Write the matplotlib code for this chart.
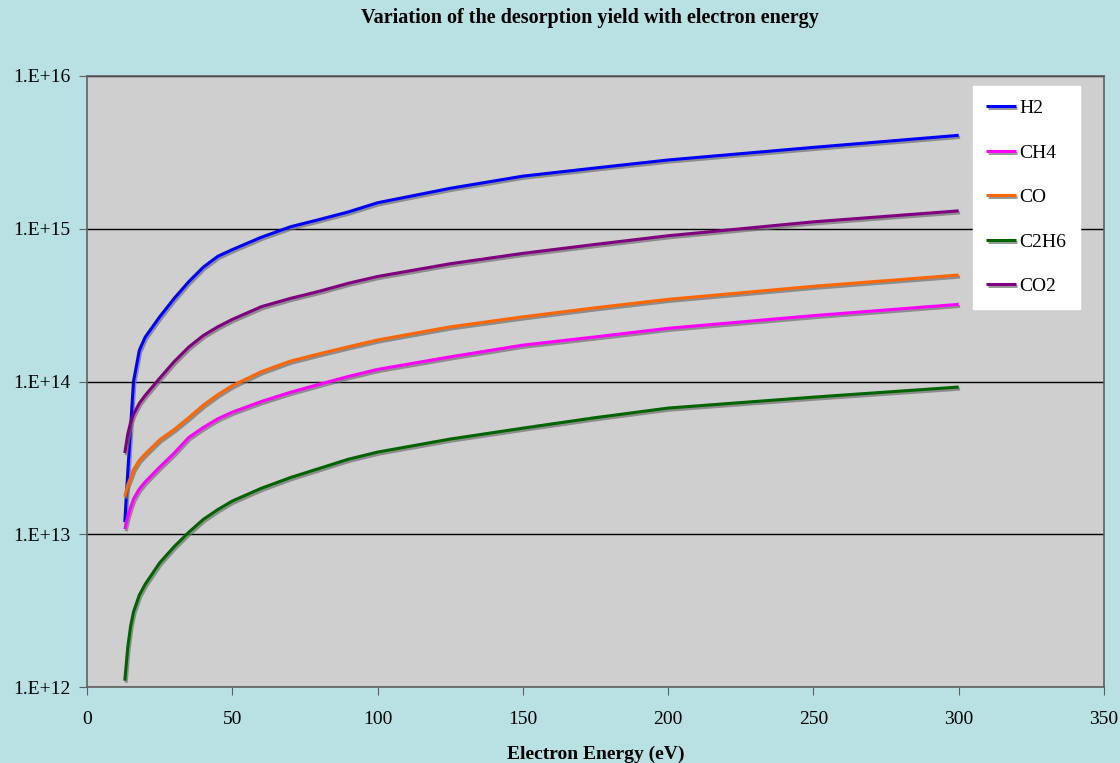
import math
import matplotlib
matplotlib.use("Agg")
from matplotlib import pyplot as plt
from matplotlib import patheffects as pe
from matplotlib.ticker import FixedLocator, FuncFormatter, NullLocator

# electron energy (eV)
energy = [13, 14, 15, 16, 18, 20, 25, 30, 35, 40, 45, 50, 60, 70, 80, 90, 100,
          125, 150, 175, 200, 250, 300]

h2 = [1.2e13, 2.5e13, 5.0e13, 1.0e14, 1.6e14, 1.95e14, 2.65e14, 3.5e14, 4.5e14,
      5.6e14, 6.6e14, 7.3e14, 8.8e14, 1.03e15, 1.15e15, 1.29e15, 1.48e15,
      1.84e15, 2.21e15, 2.5e15, 2.82e15, 3.41e15, 4.09e15]
ch4 = [1.08e13, 1.3e13, 1.5e13, 1.7e13, 1.98e13, 2.2e13, 2.75e13, 3.4e13, 4.3e13,
       5.0e13, 5.7e13, 6.3e13, 7.4e13, 8.5e13, 9.6e13, 1.08e14, 1.2e14,
       1.45e14, 1.73e14, 1.96e14, 2.23e14, 2.7e14, 3.2e14]
co = [1.76e13, 2.1e13, 2.35e13, 2.65e13, 3.05e13, 3.35e13, 4.15e13, 4.85e13, 5.8e13,
      7.0e13, 8.2e13, 9.4e13, 1.16e14, 1.36e14, 1.52e14, 1.69e14, 1.87e14,
      2.28e14, 2.65e14, 3.04e14, 3.45e14, 4.2e14, 4.98e14]
c2h6 = [1.1e12, 1.8e12, 2.5e12, 3.1e12, 4.0e12, 4.7e12, 6.5e12, 8.3e12, 1.03e13,
        1.25e13, 1.45e13, 1.65e13, 2.0e13, 2.35e13, 2.7e13, 3.1e13, 3.45e13,
        4.2e13, 4.95e13, 5.8e13, 6.7e13, 7.9e13, 9.2e13]
co2 = [3.4e13, 4.5e13, 5.4e13, 6.1e13, 7.2e13, 8.1e13, 1.05e14, 1.35e14, 1.68e14,
       2.0e14, 2.28e14, 2.55e14, 3.09e14, 3.5e14, 3.9e14, 4.4e14, 4.87e14,
       5.9e14, 6.9e14, 7.9e14, 9.0e14, 1.11e15, 1.31e15]

names = ["H2", "CH4", "CO", "C2H6", "CO2"]
colors = ["#0000FF", "#FF00FF", "#FF6600", "#006400", "#800080"]

xticks = [0, 50, 100, 150, 200, 250, 300, 350]
yticks = [1e12, 1e13, 1e14, 1e15, 1e16]

plt.rcParams['font.family'] = ['Liberation Serif', 'DejaVu Serif']

fig = plt.figure(figsize=(11.2, 7.63), dpi=100)
fig.patch.set_facecolor("#B9E0E3")
ax = fig.add_axes([87 / 1120, 1 - 687 / 763, (1104 - 87) / 1120, (687 - 76) / 763])
ax.set_facecolor("#CFCFCF")

shadow = [pe.SimpleLineShadow(offset=(1, -1.5), shadow_color="#707070", alpha=0.7),
          pe.Normal()]
for name, ys, c in zip(names, [h2, ch4, co, c2h6, co2], colors):
    ax.plot(energy, ys, color=c, lw=2.2, label=name, path_effects=shadow,
            solid_capstyle="butt")

ax.set_yscale("log")
ax.set_xlim(0, 350)
ax.set_ylim(1e12, 1e16)
ax.xaxis.set_major_locator(FixedLocator(xticks))
ax.yaxis.set_major_locator(FixedLocator(yticks))
ax.yaxis.set_minor_locator(NullLocator())
ax.yaxis.set_major_formatter(FuncFormatter(lambda v, p: "1.E+%d" % round(math.log10(v))))
ax.grid(axis="y", color="black", lw=1)
ax.set_axisbelow(True)
for s in ax.spines.values():
    s.set_color("#606060")
    s.set_linewidth(1.2)
ax.tick_params(direction="out", length=6, color="#606060", labelsize=14)
ax.tick_params(axis="y", pad=6)
ax.tick_params(axis="x", pad=11)

ax.set_xlabel("Electron Energy (eV)", fontsize=14, fontweight="bold", labelpad=13)
fig.text(590 / 1120, 1 - 18 / 763, "Variation of the desorption yield with electron energy",
         ha="center", va="center", fontsize=14.5, fontweight="bold")

leg = ax.legend(loc="upper right", bbox_to_anchor=(1080 / 1120, 1 - 86 / 763),
                bbox_transform=fig.transFigure, frameon=True, fancybox=False,
                fontsize=14, handlelength=1.5, handletextpad=0.2,
                labelspacing=1.38, borderpad=0.7, borderaxespad=0)
leg.get_frame().set_facecolor("white")
leg.get_frame().set_edgecolor("white")
leg.get_frame().set_alpha(1)

fig.savefig("out.png", dpi=100, facecolor=fig.get_facecolor())
